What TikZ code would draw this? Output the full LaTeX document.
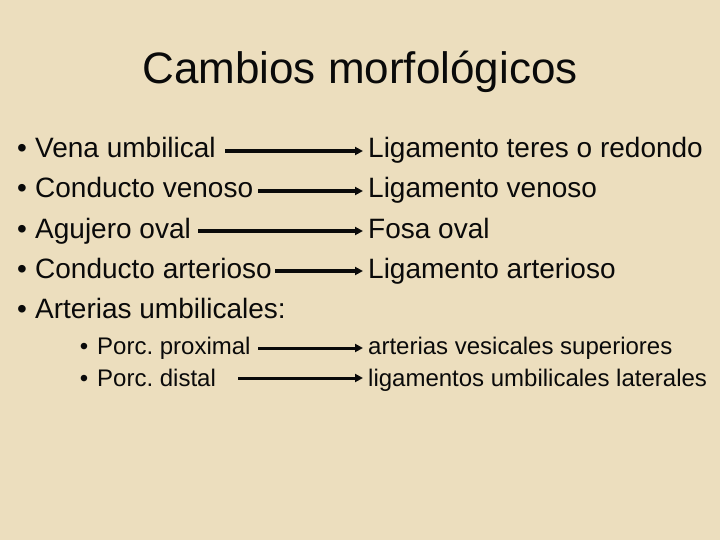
\documentclass[tikz,border=0pt]{standalone}
\usepackage{fontspec}
\setmainfont{Liberation Sans}
\usetikzlibrary{arrows.meta}
\definecolor{parch}{RGB}{236,222,190}
\definecolor{ink}{RGB}{10,10,10}
\tikzset{
  title/.style={anchor=base, inner sep=0pt, text=ink, font=\fontsize{44}{50}\selectfont},
  big/.style={anchor=base west, inner sep=0pt, text=ink, font=\fontsize{28}{32}\selectfont},
  small/.style={anchor=base west, inner sep=0pt, text=ink, font=\fontsize{24}{28}\selectfont},
  arr/.style={draw=ink, line width=3.5pt, -{Triangle[length=8pt,width=8pt]}},
  arrs/.style={draw=ink, line width=3pt, -{Triangle[length=8pt,width=8pt]}}
}
\frenchspacing
\begin{document}
\begin{tikzpicture}[x=1pt,y=-1pt]
\fill[parch] (0,0) rectangle (720,540);
\useasboundingbox (0,0) rectangle (720,540);
\node[title] (t) at (360,84) {Cambios morfológicos};
% bullets
\foreach \i/\yy in {1/158,2/198,3/238,4/278,5/318}{
  \node[big, anchor=base] (b\i) at (22,\yy) {•};
}
\node[big] (l1) at (35,158) {Vena umbilical};
\node[big] (l2) at (35,198) {Conducto venoso};
\node[big] (l3) at (35,238) {Agujero oval};
\node[big] (l4) at (35,278) {Conducto arterioso};
\node[big] (l5) at (35,318) {Arterias umbilicales:};
\node[big] (r1) at (368,158) {Ligamento teres o redondo};
\node[big] (r2) at (368,198) {Ligamento venoso};
\node[big] (r3) at (368,238) {Fosa oval};
\node[big] (r4) at (368,278) {Ligamento arterioso};
% sub bullets
\node[small, anchor=base] (sb1) at (84,354) {•};
\node[small, anchor=base] (sb2) at (84,386) {•};
\node[small] (s1) at (97,354) {Porc. proximal};
\node[small] (s2) at (97,386) {Porc. distal};
\node[small] (q1) at (368,354) {arterias vesicales superiores};
\node[small] (q2) at (368,386) {ligamentos umbilicales laterales};
% arrow start points
\coordinate (a1) at (225,151);
\coordinate (a2) at (258,191);
\coordinate (a3) at (198,231);
\coordinate (a4) at (275,271);
\coordinate (a5) at (258,348);
\coordinate (a6) at (238,378);
% arrows
\foreach \i in {1,2,3,4}{
  \draw[arr] (a\i) -- ([xshift=-5pt]r\i.base west |- a\i);
}
\draw[arrs] (a5) -- ([xshift=-5pt]q1.base west |- a5);
\draw[arrs] (a6) -- ([xshift=-5pt]q2.base west |- a6);
\end{tikzpicture}
\end{document}
